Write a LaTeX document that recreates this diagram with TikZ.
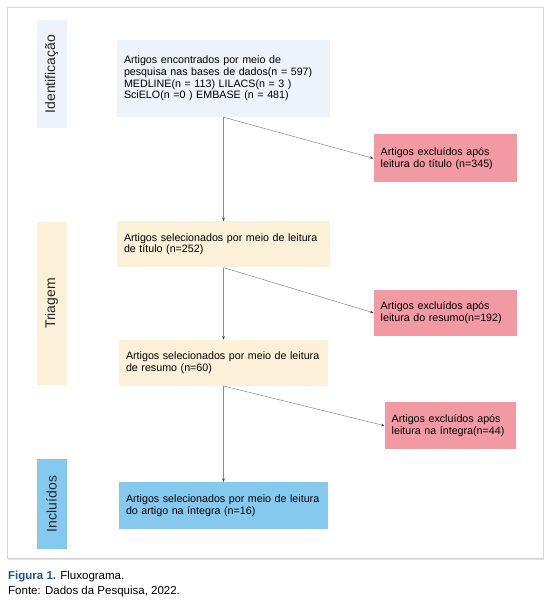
\documentclass[tikz,border=0pt]{standalone}
\usepackage{fontspec}
\setmainfont{Liberation Sans}
\usepackage{tikz}
\usetikzlibrary{arrows.meta,positioning,shadows}
\definecolor{IdFill}{HTML}{EEF2FA}
\definecolor{TriFill}{HTML}{FCF1D8}
\definecolor{ExcFill}{HTML}{F29AA4}
\definecolor{IncFill}{HTML}{86C9EE}
\definecolor{FrameLine}{HTML}{D8D8D8}
\definecolor{CapBlue}{HTML}{1F4FA0}

\begin{document}
\begin{tikzpicture}[
  x=1pt, y=-1pt,
  box/.style={inner xsep=7pt, inner ysep=4pt, align=left,
    font=\fontsize{10.7}{11.6}\selectfont},
  side/.style={rotate=90, minimum height=30pt, inner sep=0pt,
    font=\fontsize{14}{16}\selectfont, text=black!85},
  flow/.style={draw=black!45, line width=0.5pt,
    -{Stealth[length=3.5pt, width=2.6pt, color=black!75]}}
]
  \useasboundingbox (0,0) rectangle (550,603);
  \draw[fill=white, draw=FrameLine, line width=0.8pt,
    drop shadow={shadow xshift=1.2pt, shadow yshift=-1.5pt, opacity=0.25}]
    (7,7) rectangle (543,558);

  % etapas
  \node[side, fill=IdFill, minimum width=108pt] (lid) at (51.5,74) {Identificação};
  \node[side, fill=TriFill, minimum width=163pt] (ltri) at (51.5,303.5) {Triagem};
  \node[side, fill=IncFill, minimum width=90pt] (linc) at (51.5,504) {Incluídos};

  % coluna principal
  \node[box, fill=IdFill, text width=199pt, minimum height=77pt] (busca) at (223.5,78.5)
    {Artigos encontrados por meio de\\pesquisa nas bases de dados(n = 597)\\MEDLINE(n = 113) LILACS(n = 3 )\\SciELO(n =0 ) EMBASE (n = 481)};
  \node[box, fill=TriFill, text width=199pt, minimum height=46pt, below=104pt of busca] (tit)
    {Artigos selecionados por meio de leitura\\de título (n=252)};
  \node[box, fill=TriFill, text width=195pt, minimum height=46pt, below=72pt of tit] (res)
    {Artigos selecionados por meio de leitura\\de resumo (n=60)};
  \node[box, fill=IncFill, text width=195pt, minimum height=47pt, below=96pt of res] (integ)
    {Artigos selecionados por meio de leitura\\do artigo na íntegra (n=16)};

  % exclusoes
  \node[box, fill=ExcFill, text width=129pt, minimum height=48pt, anchor=north west,
    below right=17pt and 150pt of busca.south] (ex1)
    {Artigos excluídos após\\leitura do título (n=345)};
  \node[box, fill=ExcFill, text width=129pt, minimum height=46pt, anchor=north west,
    below right=22pt and 150pt of tit.south] (ex2)
    {Artigos excluídos após\\leitura do resumo(n=192)};
  \node[box, fill=ExcFill, text width=117pt, minimum height=47pt, anchor=north west,
    below right=16pt and 161pt of res.south] (ex3)
    {Artigos excluídos após\\leitura na íntegra(n=44)};

  \draw[flow] (busca.south) -- (tit.north);
  \draw[flow] (tit.south) -- (res.north);
  \draw[flow] (res.south) -- (integ.north);
  \draw[flow] (busca.south) -- (ex1.west);
  \draw[flow] (tit.south) -- (ex2.west);
  \draw[flow] (res.south) -- (ex3.west);

  % legenda
  \node[anchor=base west, inner sep=0pt, font=\fontsize{11.5}{13}\selectfont] (cap1) at (8,579)
    {\textcolor{CapBlue}{\textbf{Figura 1.}} Fluxograma.};
  \node[anchor=base west, inner sep=0pt, font=\fontsize{11.5}{13}\selectfont] (cap2) at (8,594)
    {Fonte: Dados da Pesquisa, 2022.};
\end{tikzpicture}
\end{document}
